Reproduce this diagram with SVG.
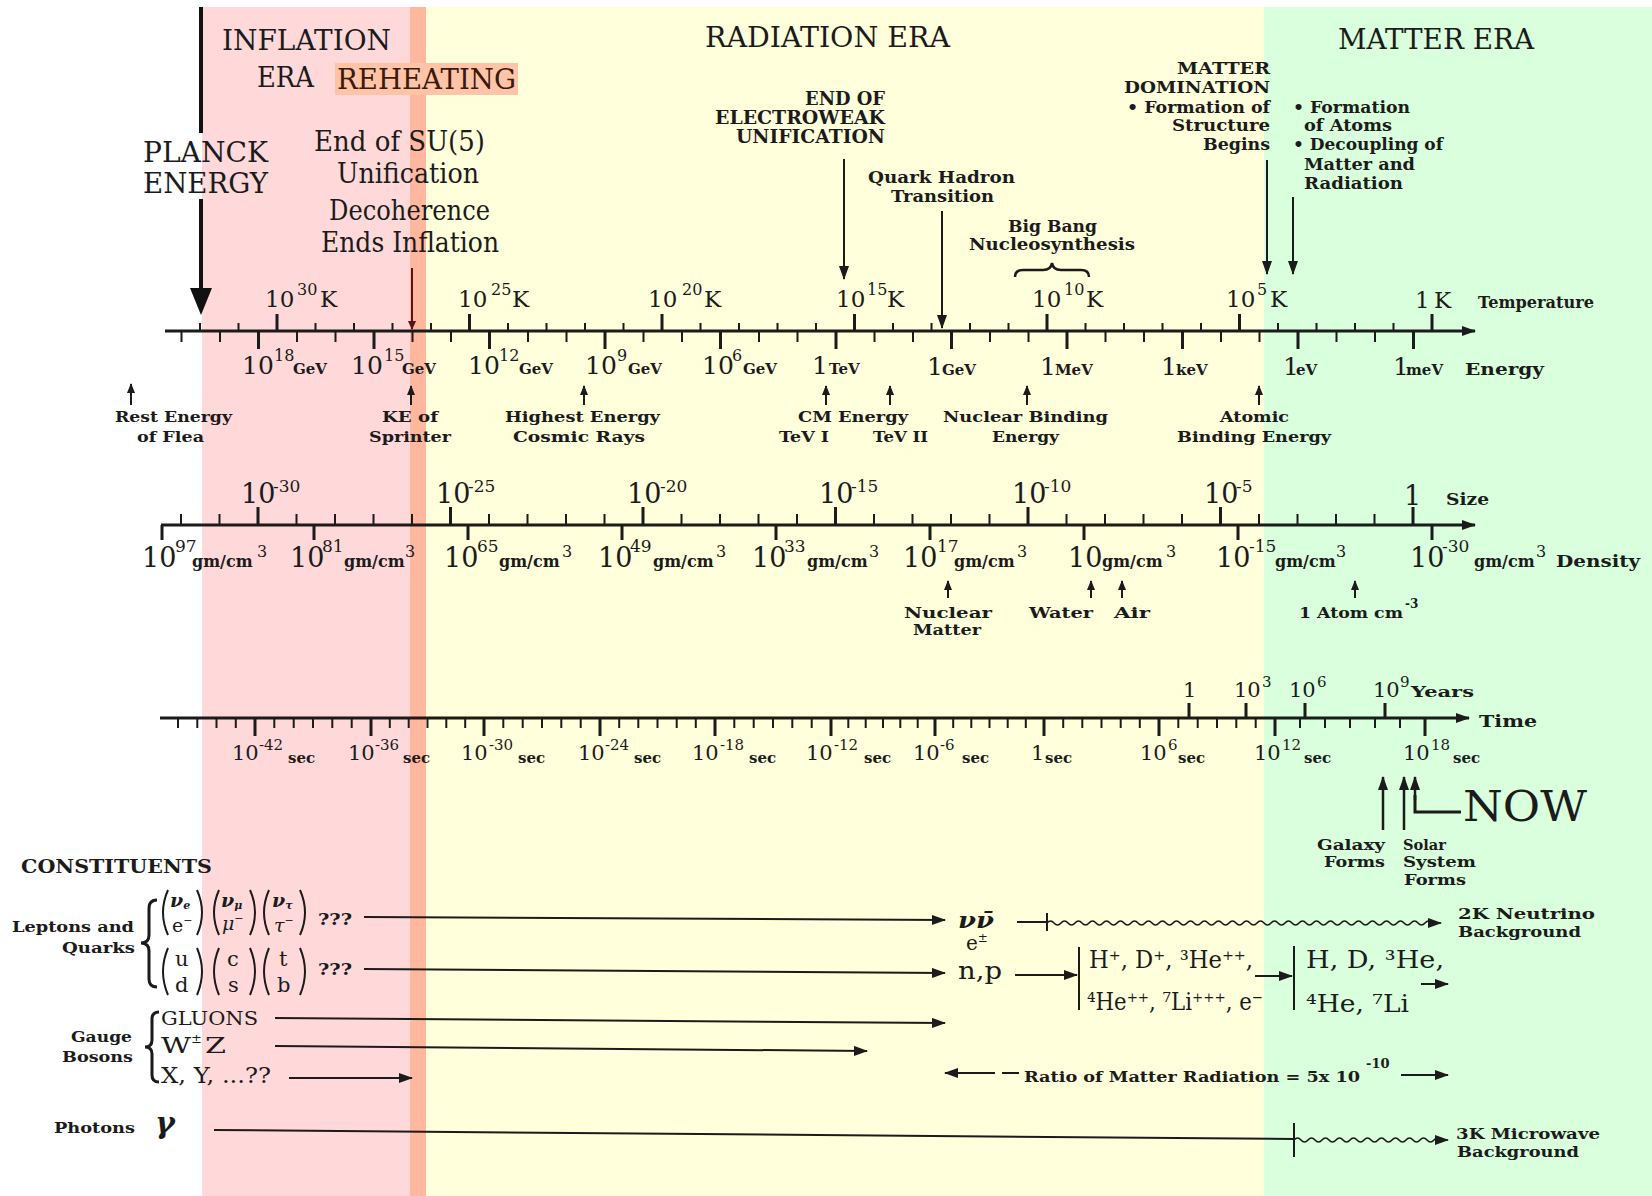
<svg xmlns="http://www.w3.org/2000/svg" width="1652" height="1196" viewBox="0 0 1652 1196">
<defs>
<style>
text{font-family:"DejaVu Serif","Liberation Serif",serif;fill:#1b1b1b}
.b{font-weight:bold}
.it{font-style:italic}
.s11{font-size:11px}.s12{font-size:12px}.s13{font-size:13px}.s14{font-size:14px}.s15{font-size:15px}.s16{font-size:16px}.s17{font-size:17px}.s18{font-size:18px}.s19{font-size:19px}.s20{font-size:20px}.s21{font-size:21px}.s22{font-size:22px}.s23{font-size:23px}.s24{font-size:24px}.s25{font-size:25px}.s27{font-size:27px}.s28{font-size:28px}.s30{font-size:30px}.s42{font-size:42px}
.ln{stroke:#1b1b1b;fill:none;stroke-width:2}
.ax{stroke:#1b1b1b;fill:none;stroke-width:3}
.tk{stroke:#1b1b1b;fill:none;stroke-width:2}
.tkM{stroke:#1b1b1b;fill:none;stroke-width:3}
.ar{marker-end:url(#ah)}
.sa{marker-end:url(#as)}
</style>
<marker id="ah" markerUnits="userSpaceOnUse" markerWidth="14" markerHeight="10" refX="13" refY="5" orient="auto" viewBox="0 0 14 10"><path d="M0,0L14,5L0,10z" fill="#1b1b1b"/></marker>
<marker id="as" markerUnits="userSpaceOnUse" markerWidth="10" markerHeight="8" refX="9" refY="4" orient="auto" viewBox="0 0 10 8"><path d="M0,0L10,4L0,8z" fill="#1b1b1b"/></marker>
<marker id="ahr" markerUnits="userSpaceOnUse" markerWidth="9" markerHeight="8" refX="8" refY="4" orient="auto" viewBox="0 0 9 8"><path d="M0,0L9,4L0,8z" fill="#5a1212"/></marker>
</defs>

<g id="bands">
<rect x="0" y="0" width="1652" height="1196" fill="#ffffff"/>
<rect x="202" y="7" width="208" height="1189" fill="#ffd9d9"/>
<rect x="410" y="7" width="16" height="1189" fill="#ffb79e"/>
<rect x="426" y="7" width="838" height="1189" fill="#ffffdb"/>
<rect x="1264" y="7" width="388" height="1189" fill="#d9ffdc"/>
<rect x="335" y="63" width="183" height="32" fill="#ffc4a8"/>
</g>

<g id="era-titles">
<text class="s28" x="222" y="50" textLength="169" lengthAdjust="spacingAndGlyphs">INFLATION</text>
<text class="s28" x="257" y="87" textLength="57" lengthAdjust="spacingAndGlyphs">ERA</text>
<text class="s28" x="337" y="89" textLength="179" lengthAdjust="spacingAndGlyphs" style="fill:#3a1a0a">REHEATING</text>
<text class="s28" x="705" y="47" textLength="245" lengthAdjust="spacingAndGlyphs">RADIATION ERA</text>
<text class="s28" x="1338" y="49" textLength="196" lengthAdjust="spacingAndGlyphs">MATTER ERA</text>
</g>

<g id="planck">
<text class="s28" x="143" y="162" textLength="125" lengthAdjust="spacingAndGlyphs">PLANCK</text>
<text class="s28" x="143" y="193" textLength="125" lengthAdjust="spacingAndGlyphs">ENERGY</text>
</g>

<g id="su5">
<text class="s28" x="314" y="151" textLength="171" lengthAdjust="spacingAndGlyphs">End of SU(5)</text>
<text class="s28" x="337" y="183" textLength="142" lengthAdjust="spacingAndGlyphs">Unification</text>
<text class="s28" x="329" y="220" textLength="161" lengthAdjust="spacingAndGlyphs">Decoherence</text>
<text class="s28" x="321" y="252" textLength="178" lengthAdjust="spacingAndGlyphs">Ends Inflation</text>
</g>

<g id="electroweak">
<text class="b s18" x="805" y="105" textLength="80" lengthAdjust="spacingAndGlyphs">END OF</text>
<text class="b s18" x="715" y="124" textLength="170" lengthAdjust="spacingAndGlyphs">ELECTROWEAK</text>
<text class="b s18" x="736" y="143" textLength="149" lengthAdjust="spacingAndGlyphs">UNIFICATION</text>
</g>

<g id="quark-hadron">
<text class="b s17" x="868" y="183" textLength="147" lengthAdjust="spacingAndGlyphs">Quark Hadron</text>
<text class="b s17" x="891" y="202" textLength="103" lengthAdjust="spacingAndGlyphs">Transition</text>
</g>

<g id="nucleosynthesis">
<text class="b s16" x="1008" y="232" textLength="89" lengthAdjust="spacingAndGlyphs">Big Bang</text>
<text class="b s16" x="969" y="250" textLength="166" lengthAdjust="spacingAndGlyphs">Nucleosynthesis</text>
</g>

<g id="matter-domination">
<text class="b s17" x="1177" y="74" textLength="93" lengthAdjust="spacingAndGlyphs">MATTER</text>
<text class="b s17" x="1124" y="93" textLength="146" lengthAdjust="spacingAndGlyphs">DOMINATION</text>
<text class="b s16" x="1127" y="113" textLength="143" lengthAdjust="spacingAndGlyphs">• Formation of</text>
<text class="b s16" x="1172" y="131" textLength="98" lengthAdjust="spacingAndGlyphs">Structure</text>
<text class="b s16" x="1203" y="150" textLength="67" lengthAdjust="spacingAndGlyphs">Begins</text>
</g>

<g id="decoupling">
<text class="b s16" x="1293" y="113" textLength="117" lengthAdjust="spacingAndGlyphs">• Formation</text>
<text class="b s16" x="1304" y="131" textLength="88" lengthAdjust="spacingAndGlyphs">of Atoms</text>
<text class="b s16" x="1293" y="150" textLength="150" lengthAdjust="spacingAndGlyphs">• Decoupling of</text>
<text class="b s16" x="1304" y="170" textLength="111" lengthAdjust="spacingAndGlyphs">Matter and</text>
<text class="b s16" x="1304" y="189" textLength="99" lengthAdjust="spacingAndGlyphs">Radiation</text>
</g>

<g id="temperature-energy-axis">
<path class="ax ar" d="M165,331H1475"/>
<path class="tk" d="M200,331v-8M238.5,331v-8M315.5,331v-8M354,331v-8M392.5,331v-8M431,331v-8M508,331v-8M546.5,331v-8M585,331v-8M623.5,331v-8M700.5,331v-8M739,331v-8M777.5,331v-8M816,331v-8M893,331v-8M931.5,331v-8M970,331v-8M1008.5,331v-8M1085.5,331v-8M1124,331v-8M1162.5,331v-8M1201,331v-8M1278,331v-8M1316.5,331v-8M1355,331v-8M1393.5,331v-8"/>
<path class="tkM" d="M277,331v-17M469.5,331v-17M662,331v-17M854.5,331v-17M1047,331v-17M1239.5,331v-17M1432,331v-17"/>
<path class="tk" d="M181.5,331v11M220,331v11M297,331v11M335.5,331v11M412.5,331v11M451,331v11M528,331v11M566.5,331v11M643.5,331v11M682,331v11M759,331v11M797.5,331v11M874.5,331v11M913,331v11M990,331v11M1028.5,331v11M1105.5,331v11M1144,331v11M1221,331v11M1259.5,331v11M1336.5,331v11M1375,331v11"/>
<path class="tkM" d="M258.5,331v18M374,331v18M489.5,331v18M605,331v18M720.5,331v18M836,331v18M951.5,331v18M1067,331v18M1182.5,331v18M1298,331v18M1413.5,331v18"/>
<text class="s23"><tspan x="265" y="307">10</tspan><tspan class="s16" x="297" y="295">30</tspan><tspan x="320" y="307">K</tspan></text>
<text class="s23"><tspan x="458" y="307">10</tspan><tspan class="s16" x="491" y="295">25</tspan><tspan x="512" y="307">K</tspan></text>
<text class="s23"><tspan x="648" y="307">10</tspan><tspan class="s16" x="682" y="295">20</tspan><tspan x="704" y="307">K</tspan></text>
<text class="s23"><tspan x="836" y="307">10</tspan><tspan class="s16" x="867" y="295">15</tspan><tspan x="887" y="307">K</tspan></text>
<text class="s23"><tspan x="1032" y="307">10</tspan><tspan class="s16" x="1064" y="295">10</tspan><tspan x="1086" y="307">K</tspan></text>
<text class="s23"><tspan x="1226" y="307">10</tspan><tspan class="s16" x="1257" y="295">5</tspan><tspan x="1270" y="307">K</tspan></text>
<text class="s23"><tspan x="1415" y="308">1</tspan><tspan x="1434" y="308">K</tspan></text>
<text class="b s17" x="1478" y="308" textLength="116" lengthAdjust="spacingAndGlyphs">Temperature</text>

<text class="s25"><tspan x="242" y="374">10</tspan><tspan class="s16" x="274" y="361">18</tspan><tspan class="b s15" x="293" y="374">GeV</tspan></text>
<text class="s25"><tspan x="351" y="374">10</tspan><tspan class="s16" x="384" y="361">15</tspan><tspan class="b s15" x="402" y="374">GeV</tspan></text>
<text class="s25"><tspan x="468" y="374">10</tspan><tspan class="s16" x="499" y="361">12</tspan><tspan class="b s15" x="519" y="374">GeV</tspan></text>
<text class="s25"><tspan x="585" y="374">10</tspan><tspan class="s16" x="617" y="361">9</tspan><tspan class="b s15" x="628" y="374">GeV</tspan></text>
<text class="s25"><tspan x="702" y="374">10</tspan><tspan class="s16" x="732" y="361">6</tspan><tspan class="b s15" x="743" y="374">GeV</tspan></text>
<text class="s25"><tspan x="812" y="374">1</tspan><tspan class="b s15" x="829" y="374">TeV</tspan></text>
<text class="s25"><tspan x="927" y="375">1</tspan><tspan class="b s15" x="942" y="375">GeV</tspan></text>
<text class="s25"><tspan x="1040" y="375">1</tspan><tspan class="b s15" x="1055" y="375">MeV</tspan></text>
<text class="s25"><tspan x="1161" y="375">1</tspan><tspan class="b s15" x="1176" y="375">keV</tspan></text>
<text class="s25"><tspan x="1283" y="375">1</tspan><tspan class="b s15" x="1296" y="375">eV</tspan></text>
<text class="s25"><tspan x="1393" y="375">1</tspan><tspan class="b s15" x="1406" y="375">meV</tspan></text>
<text class="b s17" x="1465" y="375" textLength="79" lengthAdjust="spacingAndGlyphs">Energy</text>
</g>

<g id="energy-examples">
<text class="b s15" x="115" y="422" textLength="117" lengthAdjust="spacingAndGlyphs">Rest Energy</text>
<text class="b s15" x="137" y="442" textLength="67" lengthAdjust="spacingAndGlyphs">of Flea</text>
<text class="b s15" x="382" y="422" textLength="56" lengthAdjust="spacingAndGlyphs">KE of</text>
<text class="b s15" x="369" y="442" textLength="82" lengthAdjust="spacingAndGlyphs">Sprinter</text>
<text class="b s15" x="505" y="422" textLength="155" lengthAdjust="spacingAndGlyphs">Highest Energy</text>
<text class="b s15" x="513" y="442" textLength="132" lengthAdjust="spacingAndGlyphs">Cosmic Rays</text>
<text class="b s15" x="798" y="422" textLength="110" lengthAdjust="spacingAndGlyphs">CM Energy</text>
<text class="b s15" x="779" y="442" textLength="50" lengthAdjust="spacingAndGlyphs">TeV I</text>
<text class="b s15" x="873" y="442" textLength="55" lengthAdjust="spacingAndGlyphs">TeV II</text>
<text class="b s15" x="943" y="422" textLength="165" lengthAdjust="spacingAndGlyphs">Nuclear Binding</text>
<text class="b s15" x="992" y="442" textLength="67" lengthAdjust="spacingAndGlyphs">Energy</text>
<text class="b s15" x="1220" y="422" textLength="69" lengthAdjust="spacingAndGlyphs">Atomic</text>
<text class="b s15" x="1177" y="442" textLength="154" lengthAdjust="spacingAndGlyphs">Binding Energy</text>
</g>

<g id="size-density-axis">
<path class="ax ar" d="M161,525H1475"/>
<path class="tk" d="M181,525v-11M219.5,525v-11M296.5,525v-11M335,525v-11M373.5,525v-11M412,525v-11M489,525v-11M527.5,525v-11M566,525v-11M604.5,525v-11M681.5,525v-11M720,525v-11M758.5,525v-11M797,525v-11M874,525v-11M912.5,525v-11M951,525v-11M989.5,525v-11M1066.5,525v-11M1105,525v-11M1143.5,525v-11M1182,525v-11M1259,525v-11M1297.5,525v-11M1336,525v-11M1374.5,525v-11"/>
<path class="tkM" d="M258,525v-18M450.5,525v-18M643,525v-18M835.5,525v-18M1028,525v-18M1220.5,525v-18M1413,525v-18"/>
<path class="tkM" d="M162,525v15M314,525v15M468,525v15M622,525v15M776,525v15M930,525v15M1084,525v15M1238,525v15M1432,525v15"/>
<text class="s27"><tspan x="241" y="503">10</tspan><tspan class="s17" x="273" y="492">-30</tspan></text>
<text class="s27"><tspan x="436" y="503">10</tspan><tspan class="s17" x="468" y="492">-25</tspan></text>
<text class="s27"><tspan x="627" y="503">10</tspan><tspan class="s17" x="660" y="492">-20</tspan></text>
<text class="s27"><tspan x="819" y="503">10</tspan><tspan class="s17" x="851" y="492">-15</tspan></text>
<text class="s27"><tspan x="1012" y="503">10</tspan><tspan class="s17" x="1044" y="492">-10</tspan></text>
<text class="s27"><tspan x="1204" y="503">10</tspan><tspan class="s17" x="1236" y="492">-5</tspan></text>
<text class="s27" x="1404" y="505">1</text>
<text class="b s17" x="1446" y="505" textLength="43" lengthAdjust="spacingAndGlyphs">Size</text>

<text class="s27"><tspan x="142" y="567">10</tspan><tspan class="s17" x="175" y="552">97</tspan><tspan class="b s16" x="192" y="567">gm/cm</tspan><tspan class="s16" x="257" y="557">3</tspan></text>
<text class="s27"><tspan x="290" y="567">10</tspan><tspan class="s17" x="322" y="552">81</tspan><tspan class="b s16" x="344" y="567">gm/cm</tspan><tspan class="s16" x="405" y="557">3</tspan></text>
<text class="s27"><tspan x="444" y="567">10</tspan><tspan class="s17" x="477" y="552">65</tspan><tspan class="b s16" x="499" y="567">gm/cm</tspan><tspan class="s16" x="562" y="557">3</tspan></text>
<text class="s27"><tspan x="598" y="567">10</tspan><tspan class="s17" x="630" y="552">49</tspan><tspan class="b s16" x="653" y="567">gm/cm</tspan><tspan class="s16" x="716" y="557">3</tspan></text>
<text class="s27"><tspan x="752" y="567">10</tspan><tspan class="s17" x="784" y="552">33</tspan><tspan class="b s16" x="807" y="567">gm/cm</tspan><tspan class="s16" x="869" y="557">3</tspan></text>
<text class="s27"><tspan x="903" y="567">10</tspan><tspan class="s17" x="937" y="552">17</tspan><tspan class="b s16" x="954" y="567">gm/cm</tspan><tspan class="s16" x="1017" y="557">3</tspan></text>
<text class="s27"><tspan x="1068" y="567">10</tspan><tspan class="b s16" x="1102" y="567">gm/cm</tspan><tspan class="s16" x="1166" y="557">3</tspan></text>
<text class="s27"><tspan x="1216" y="567">10</tspan><tspan class="s17" x="1249" y="552">-15</tspan><tspan class="b s16" x="1275" y="567">gm/cm</tspan><tspan class="s16" x="1336" y="557">3</tspan></text>
<text class="s27"><tspan x="1410" y="567">10</tspan><tspan class="s17" x="1442" y="552">-30</tspan><tspan class="b s16" x="1474" y="567">gm/cm</tspan><tspan class="s16" x="1536" y="557">3</tspan></text>
<text class="b s17" x="1556" y="567" textLength="84" lengthAdjust="spacingAndGlyphs">Density</text>
</g>

<g id="density-examples">
<text class="b s15" x="904" y="618" textLength="88" lengthAdjust="spacingAndGlyphs">Nuclear</text>
<text class="b s15" x="913" y="635" textLength="68" lengthAdjust="spacingAndGlyphs">Matter</text>
<text class="b s15" x="1029" y="618" textLength="64" lengthAdjust="spacingAndGlyphs">Water</text>
<text class="b s15" x="1114" y="618" textLength="36" lengthAdjust="spacingAndGlyphs">Air</text>
<text class="b s15"><tspan x="1299" y="618" textLength="104" lengthAdjust="spacingAndGlyphs">1 Atom cm</tspan><tspan class="s12" x="1405" y="608">-3</tspan></text>
</g>

<g id="time-axis">
<path class="ax ar" d="M160,718H1469"/>
<path class="tk" d="M178,718v10M197.3,718v10M216.5,718v10M235.8,718v10M274.3,718v10M293.7,718v10M313,718v10M332.3,718v10M351.7,718v10M389.8,718v10M408.7,718v10M427.5,718v10M446.3,718v10M465.2,718v10M503.3,718v10M522.7,718v10M542,718v10M561.3,718v10M580.7,718v10M619.2,718v10M638.3,718v10M657.5,718v10M676.7,718v10M695.8,718v10M734.3,718v10M753.7,718v10M773,718v10M792.3,718v10M811.7,718v10M848.3,718v10M865.7,718v10M883,718v10M900.3,718v10M917.7,718v10M953.2,718v10M971.3,718v10M989.5,718v10M1007.7,718v10M1025.8,718v10M1063.2,718v10M1082.3,718v10M1101.5,718v10M1120.7,718v10M1139.8,718v10M1178.3,718v10M1197.7,718v10M1217,718v10M1236.3,718v10M1255.7,718v10M1300,718v10M1325,718v10M1350,718v10M1375,718v10M1400,718v10"/>
<path class="tkM" d="M255,718v18M371,718v18M484,718v18M600,718v18M715,718v18M831,718v18M935,718v18M1044,718v18M1159,718v18M1275,718v18M1425,718v18"/>
<path class="tkM" d="M1189,718v-15M1246,718v-15M1305,718v-15M1385,718v-15"/>
<text class="s21"><tspan x="232" y="760">10</tspan><tspan class="s15" x="259" y="750">-42</tspan><tspan class="b s15" x="288" y="763">sec</tspan></text>
<text class="s21"><tspan x="348" y="760">10</tspan><tspan class="s15" x="375" y="750">-36</tspan><tspan class="b s15" x="403" y="763">sec</tspan></text>
<text class="s21"><tspan x="461" y="760">10</tspan><tspan class="s15" x="489" y="750">-30</tspan><tspan class="b s15" x="518" y="763">sec</tspan></text>
<text class="s21"><tspan x="578" y="760">10</tspan><tspan class="s15" x="605" y="750">-24</tspan><tspan class="b s15" x="634" y="763">sec</tspan></text>
<text class="s21"><tspan x="692" y="760">10</tspan><tspan class="s15" x="720" y="750">-18</tspan><tspan class="b s15" x="749" y="763">sec</tspan></text>
<text class="s21"><tspan x="806" y="760">10</tspan><tspan class="s15" x="834" y="750">-12</tspan><tspan class="b s15" x="864" y="763">sec</tspan></text>
<text class="s21"><tspan x="913" y="760">10</tspan><tspan class="s15" x="940" y="750">-6</tspan><tspan class="b s15" x="962" y="763">sec</tspan></text>
<text class="s21"><tspan x="1031" y="760">1</tspan><tspan class="b s15" x="1045" y="763">sec</tspan></text>
<text class="s21"><tspan x="1140" y="760">10</tspan><tspan class="s15" x="1168" y="750">6</tspan><tspan class="b s15" x="1178" y="763">sec</tspan></text>
<text class="s21"><tspan x="1254" y="760">10</tspan><tspan class="s15" x="1282" y="750">12</tspan><tspan class="b s15" x="1304" y="763">sec</tspan></text>
<text class="s21"><tspan x="1403" y="760">10</tspan><tspan class="s15" x="1431" y="750">18</tspan><tspan class="b s15" x="1453" y="763">sec</tspan></text>
<text class="b s17" x="1479" y="727" textLength="58" lengthAdjust="spacingAndGlyphs">Time</text>
<text class="s21" x="1183" y="697">1</text>
<text class="s21"><tspan x="1234" y="697">10</tspan><tspan class="s15" x="1262" y="687">3</tspan></text>
<text class="s21"><tspan x="1289" y="697">10</tspan><tspan class="s15" x="1317" y="687">6</tspan></text>
<text class="s21"><tspan x="1373" y="697">10</tspan><tspan class="s15" x="1400" y="687">9</tspan></text>
<text class="b s14" x="1411" y="697" textLength="63" lengthAdjust="spacingAndGlyphs">Years</text>
</g>

<g id="structure-formation">
<text class="b s15" x="1317" y="850" textLength="68" lengthAdjust="spacingAndGlyphs">Galaxy</text>
<text class="b s15" x="1324" y="867" textLength="61" lengthAdjust="spacingAndGlyphs">Forms</text>
<text class="b s15" x="1403" y="850" textLength="43" lengthAdjust="spacingAndGlyphs">Solar</text>
<text class="b s15" x="1403" y="867" textLength="73" lengthAdjust="spacingAndGlyphs">System</text>
<text class="b s15" x="1404" y="885" textLength="62" lengthAdjust="spacingAndGlyphs">Forms</text>
<text class="s42" x="1463" y="821" textLength="124" lengthAdjust="spacingAndGlyphs">NOW</text>
</g>

<g id="constituents">
<text class="b s18" x="21" y="873" textLength="191" lengthAdjust="spacingAndGlyphs">CONSTITUENTS</text>
<text class="b s15" x="12" y="932" textLength="122" lengthAdjust="spacingAndGlyphs">Leptons and</text>
<text class="b s15" x="62" y="953" textLength="73" lengthAdjust="spacingAndGlyphs">Quarks</text>
<path class="ln" style="stroke-width:3" d="M157,900q-8,0 -8,8v27q0,8 -8,8q8,0 8,8v28q0,8 8,8"/>
<path class="ln" d="M168,890Q158,912.5 168,935M197,890Q207,912.5 197,935M219,890Q209,912.5 219,935M250,890Q260,912.5 250,935M269,890Q259,912.5 269,935M300,890Q310,912.5 300,935"/>
<path class="ln" d="M168,948Q158,971.5 168,995M197,948Q207,971.5 197,995M219,948Q209,971.5 219,995M250,948Q260,971.5 250,995M269,948Q259,971.5 269,995M300,948Q310,971.5 300,995"/>
<text class="b it s19" x="170" y="907">ν<tspan class="s11" dy="2">e</tspan></text>
<text class="s19" x="172" y="932">e<tspan class="s11" dy="-8">−</tspan></text>
<text class="b it s19" x="221" y="907">ν<tspan class="s11" dy="2">μ</tspan></text>
<text class="it s19" x="222" y="930">μ<tspan class="s11" dy="-8">−</tspan></text>
<text class="b it s19" x="272" y="907">ν<tspan class="s11" dy="2">τ</tspan></text>
<text class="it s19" x="274" y="932">τ<tspan class="s11" dy="-8">−</tspan></text>
<text class="s21" x="175" y="966">u</text>
<text class="s21" x="175" y="992">d</text>
<text class="s21" x="227" y="966">c</text>
<text class="s21" x="228" y="992">s</text>
<text class="s21" x="279" y="966">t</text>
<text class="s21" x="277" y="992">b</text>
<text class="b s16" x="318" y="925" textLength="34" lengthAdjust="spacingAndGlyphs">???</text>
<text class="b s16" x="318" y="975" textLength="34" lengthAdjust="spacingAndGlyphs">???</text>
<text class="b s15" x="71" y="1042" textLength="61" lengthAdjust="spacingAndGlyphs">Gauge</text>
<text class="b s15" x="62" y="1062" textLength="71" lengthAdjust="spacingAndGlyphs">Bosons</text>
<path class="ln" style="stroke-width:3" d="M159,1012q-7,0 -7,7v21q0,7 -7,7q7,0 7,7v21q0,7 7,7"/>
<text class="s19" x="161" y="1025" textLength="97" lengthAdjust="spacingAndGlyphs">GLUONS</text>
<text class="s22" x="161" y="1053" textLength="30" lengthAdjust="spacingAndGlyphs">W</text>
<text class="s13" x="191" y="1043">±</text>
<text class="s22" x="205" y="1053" textLength="21" lengthAdjust="spacingAndGlyphs">Z</text>
<text class="s22" x="161" y="1083" textLength="110" lengthAdjust="spacingAndGlyphs">X, Y, ...??</text>
<text class="b s15" x="54" y="1133" textLength="81" lengthAdjust="spacingAndGlyphs">Photons</text>
<text class="b it s30" x="155" y="1133">γ</text>
</g>

<g id="products">
<text class="b it s22" x="958" y="928" textLength="36" lengthAdjust="spacingAndGlyphs">νν̄</text>
<text class="s20" x="966" y="950">e<tspan class="s12" dy="-8">±</tspan></text>
<text class="s24" x="958" y="979" textLength="44" lengthAdjust="spacingAndGlyphs">n,p</text>
<text class="s24" x="1089" y="968" textLength="164" lengthAdjust="spacingAndGlyphs">H⁺, D⁺, ³He⁺⁺,</text>
<text class="s24" x="1087" y="1010" textLength="176" lengthAdjust="spacingAndGlyphs">⁴He⁺⁺, ⁷Li⁺⁺⁺, e⁻</text>
<text class="s24" x="1306" y="968" textLength="138" lengthAdjust="spacingAndGlyphs">H, D, ³He,</text>
<text class="s24" x="1306" y="1012" textLength="103" lengthAdjust="spacingAndGlyphs">⁴He, ⁷Li</text>
<text class="b s15" x="1458" y="919" textLength="137" lengthAdjust="spacingAndGlyphs">2K Neutrino</text>
<text class="b s15" x="1458" y="937" textLength="123" lengthAdjust="spacingAndGlyphs">Background</text>
<text class="b s15" x="1456" y="1139" textLength="144" lengthAdjust="spacingAndGlyphs">3K Microwave</text>
<text class="b s15" x="1457" y="1157" textLength="122" lengthAdjust="spacingAndGlyphs">Background</text>
<text class="b s15"><tspan x="1024" y="1082" textLength="336" lengthAdjust="spacingAndGlyphs">Ratio of Matter Radiation = 5x 10</tspan><tspan class="s13" x="1366" y="1068">-10</tspan></text>
</g>

<g id="connectors">
<path d="M201,7V133M201,199V290" stroke="#111" stroke-width="4" fill="none"/>
<polygon points="190,288 212,288 201,315" fill="#111"/>
<path d="M412,268V329" stroke="#5a1212" stroke-width="2" fill="none" marker-end="url(#ahr)"/>
<path class="ln ar" d="M844,159V279"/>
<path class="ln ar" d="M942,211V328"/>
<path class="ln ar" d="M1267,160V274"/>
<path class="ln ar" d="M1293,197V274"/>
<path class="ln" style="stroke-width:2.5" d="M1015,277q0,-7 8,-7h20q8,0 9,-7q1,7 9,7h20q8,0 8,7"/>
<path class="ln sa" d="M131,405V384"/>
<path class="ln sa" d="M411,405V386"/>
<path class="ln sa" d="M584,405V386"/>
<path class="ln sa" d="M826,405V386"/>
<path class="ln sa" d="M890,405V386"/>
<path class="ln sa" d="M1027,405V386"/>
<path class="ln sa" d="M1259,405V386"/>
<path class="ln sa" d="M948,598V581"/>
<path class="ln sa" d="M1091,598V581"/>
<path class="ln sa" d="M1122,598V581"/>
<path class="ln sa" d="M1355,598V581"/>
<path class="ln ar" style="stroke-width:2.5" d="M1383,830V777"/>
<path class="ln ar" style="stroke-width:2.5" d="M1404,830V777"/>
<path class="ln ar" style="stroke-width:2.5" d="M1415,800V777"/>
<path class="ln" style="stroke-width:3" d="M1415,795V812H1461"/>
<path class="ln ar" d="M364,917L945,920"/>
<path class="ln ar" d="M364,969L945,973"/>
<path class="ln ar" d="M275,1018L945,1023"/>
<path class="ln ar" d="M275,1046L867,1051"/>
<path class="ln ar" d="M289,1078H412"/>
<path class="ln" d="M1017,922H1047M1047,913V931"/>
<path class="ln ar" style="stroke-width:1.6" d="M1047,923q3.5,-4 7,0t7,0t7,0t7,0t7,0t7,0t7,0t7,0t7,0t7,0t7,0t7,0t7,0t7,0t7,0t7,0t7,0t7,0t7,0t7,0t7,0t7,0t7,0t7,0t7,0t7,0t7,0t7,0t7,0t7,0t7,0t7,0t7,0t7,0t7,0t7,0t7,0t7,0t7,0t7,0t7,0t7,0t7,0t7,0t7,0t7,0t7,0t7,0t7,0t7,0t7,0t7,0t7,0t7,0t7,0h9"/>
<path class="ln ar" d="M1015,975H1077"/>
<path class="ln" d="M1079,947V1010M1294,946V1010"/>
<path class="ln ar" d="M1255,976H1292"/>
<path class="ln ar" d="M1421,984H1448"/>
<path class="ln ar" d="M995,1073H945"/>
<path class="ln" d="M1002,1073H1019"/>
<path class="ln ar" d="M1401,1075H1448"/>
<path class="ln" d="M214,1130L1294,1139M1294,1123V1157"/>
<path class="ln ar" style="stroke-width:1.6" d="M1294,1140q3.5,-4 7,0t7,0t7,0t7,0t7,0t7,0t7,0t7,0t7,0t7,0t7,0t7,0t7,0t7,0t7,0t7,0t7,0t7,0t7,0t7,0t7,0h7"/>
</g>
</svg>
